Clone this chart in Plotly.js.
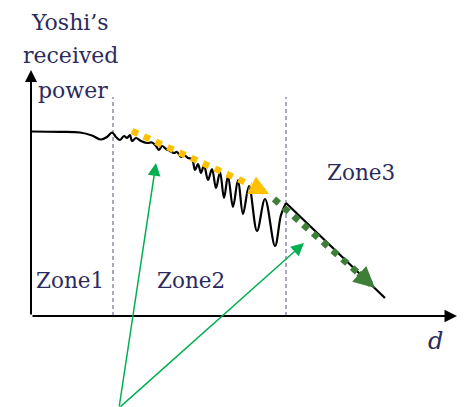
<!DOCTYPE html>
<html>
<head>
<meta charset="utf-8">
<script src="https://cdn.plot.ly/plotly-3.0.1.min.js"></script>
<style>html,body{margin:0;padding:0;background:#fff;}#chart{width:466px;height:407px;}</style>
</head>
<body>
<div id="chart"></div>
<script>
// Schematic data (d = distance, p = received power, arbitrary units)
const curveD = [0,29,49,61,70,76,81,85,89,93,96,99,101,105,110,116,121,125,128,131,135,139,143,146,150,153,157,161,164,167,170,173,177,181,185,189,193,197,202,207,212,218,226,234,244,250,255];
const curveP = [184.5,184.2,183.5,180.5,176.5,179,183.5,179,176,180,178,181,175,178,175,173,173.5,170,166,170,167,165,163,164,159,161,158,157,146,152,143,151,136,147,128,144,118,140,109,136,102,130,85,117,70,101,113];
const zone3D = [255,354];
const zone3P = [113,18];
const trendYellowD = [101,220];
const trendYellowP = [185,131];
const trendYellowTip = [238,122];
const trendGreenD = [243,326];
const trendGreenP = [117,44];
const trendGreenTip = [344,28];
const zoneBoundsD = [82,255];
const zoneBoundTop = 219;
const axisEnd = {d:426, p:246};
const pointerTail = [88,-92];
const pointerTips = [[125,153],[273,73]];
const zoneLabels = ["Zone1","Zone2","Zone3"];
const zoneLabelD = [39,160,330];
const zoneLabelP = [36,36,144];
const yTitleLines = ["Yoshi’s","received","power"];
const yTitleD = [39,39,42];
const yTitleP = [294,261,226];

const textColor = '#2B2A5C';
const serif = 'DejaVu Serif';

const traces = [];
zoneBoundsD.forEach(x => traces.push({
  x:[x,x], y:[0,zoneBoundTop], mode:'lines',
  line:{color:'#55547F', width:1, dash:'4px,3px'}, hoverinfo:'skip'
}));
traces.push({x:curveD, y:curveP, mode:'lines', line:{color:'#000', width:2.2, shape:'spline', smoothing:1}, hoverinfo:'skip'});
traces.push({x:zone3D, y:zone3P, mode:'lines', line:{color:'#000', width:2.2}, hoverinfo:'skip'});
traces.push({x:trendYellowD, y:trendYellowP, mode:'lines', line:{color:'#FFC000', width:6.5, dash:'dot'}, hoverinfo:'skip'});
traces.push({x:trendGreenD, y:trendGreenP, mode:'lines', line:{color:'#3E7F38', width:6.5, dash:'dot'}, hoverinfo:'skip'});

const ann = [];
// axes arrows
ann.push({x:axisEnd.d, y:0, ax:0, ay:0, xref:'x', yref:'y', axref:'x', ayref:'y', text:'', showarrow:true, arrowhead:2, arrowsize:1.25, arrowwidth:2, arrowcolor:'#000'});
ann.push({x:0, y:axisEnd.p, ax:0, ay:0, xref:'x', yref:'y', axref:'x', ayref:'y', text:'', showarrow:true, arrowhead:2, arrowsize:1.2, arrowwidth:2, arrowcolor:'#000'});
// trend arrowheads
ann.push({x:trendYellowTip[0], y:trendYellowTip[1], ax:trendYellowD[1], ay:trendYellowP[1], xref:'x', yref:'y', axref:'x', ayref:'y', text:'', showarrow:true, arrowhead:2, arrowsize:0.6, arrowwidth:6.5, arrowcolor:'#FFC000'});
ann.push({x:trendGreenTip[0], y:trendGreenTip[1], ax:trendGreenD[1], ay:trendGreenP[1], xref:'x', yref:'y', axref:'x', ayref:'y', text:'', showarrow:true, arrowhead:2, arrowsize:0.65, arrowwidth:6.5, arrowcolor:'#3E7F38'});
// pointer arrows
pointerTips.forEach(t => ann.push({x:t[0], y:t[1], ax:pointerTail[0], ay:pointerTail[1], xref:'x', yref:'y', axref:'x', ayref:'y', text:'', showarrow:true, arrowhead:2, arrowsize:1.7, arrowwidth:1.5, arrowcolor:'#00B050'}));
// labels
zoneLabels.forEach((t,i) => ann.push({x:zoneLabelD[i], y:zoneLabelP[i], xref:'x', yref:'y', text:t, showarrow:false, xanchor:'center', yanchor:'middle', font:{family:serif, size:21.5, color:textColor}}));
yTitleLines.forEach((t,i) => ann.push({x:yTitleD[i], y:yTitleP[i], xref:'x', yref:'y', text:t, showarrow:false, xanchor:'center', yanchor:'middle', font:{family:serif, size:22, color:textColor}}));
ann.push({x:404, y:-25, xref:'x', yref:'y', text:'<i>d</i>', showarrow:false, xanchor:'center', yanchor:'middle', font:{family:serif, size:24, color:textColor}});

const layout = {
  width:466, height:407, margin:{l:0,r:0,t:0,b:0},
  paper_bgcolor:'#fff', plot_bgcolor:'#fff', showlegend:false,
  xaxis:{range:[-31,435], visible:false, fixedrange:true},
  yaxis:{range:[-91,316], visible:false, fixedrange:true},
  annotations:ann
};
Plotly.newPlot('chart', traces, layout, {displayModeBar:false, staticPlot:true});
</script>
</body>
</html>
